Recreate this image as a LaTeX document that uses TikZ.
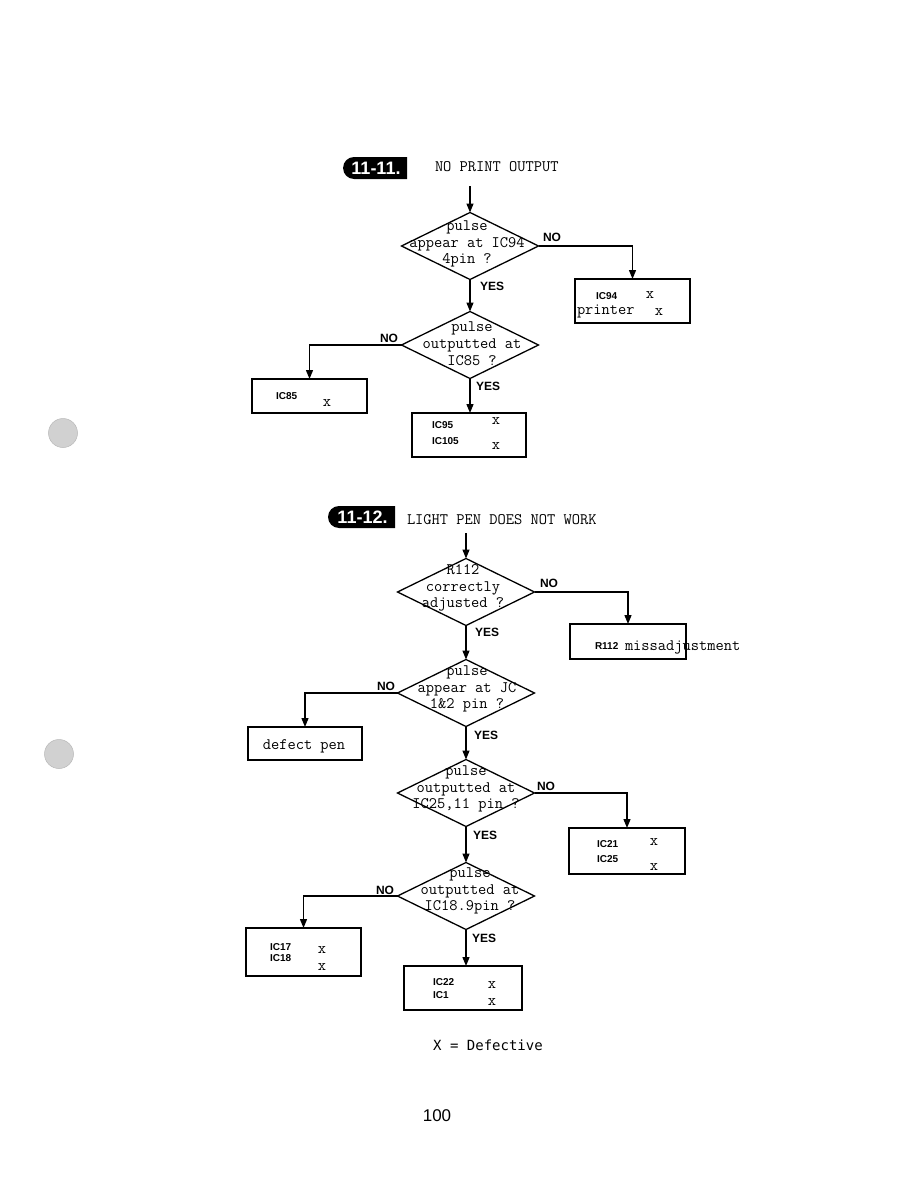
\documentclass[tikz,border=0pt]{standalone}
\usepackage{fontspec}
\setmainfont{Liberation Serif}
\newfontfamily\tsans{Liberation Sans}
\newfontfamily\dmono{DejaVu Sans Mono}
\newcommand{\cmono}{\ttfamily\addfontfeature{FakeBold=1.2}}
\usetikzlibrary{arrows.meta,shapes.geometric,shapes.misc}
\begin{document}
\begin{tikzpicture}[x=1pt,y=-1pt,
  every node/.style={inner sep=0pt,outer sep=0pt},
  arr/.style={line width=1.3pt,-{Triangle[length=9pt,width=7pt]}},
  dia/.style={draw,line width=1.3pt,diamond,minimum width=137pt,minimum height=67pt},
  dtext/.style={font=\cmono\fontsize{16}{16.8}\selectfont,align=center},
  boxnode/.style={draw,line width=1.3pt,rectangle},
  ttext/.style={font=\cmono\fontsize{16}{16}\selectfont},
  lbl/.style={font=\tsans\bfseries\fontsize{12}{12}\selectfont},
  ic/.style={font=\tsans\bfseries\fontsize{10}{10}\selectfont,anchor=west},
  xx/.style={font=\cmono\fontsize{16}{16}\selectfont},
  badge/.style={fill=black,rounded rectangle,rounded rectangle right arc=none,text=white,
     font=\tsans\bfseries\fontsize{18}{18}\selectfont,minimum height=22pt},
  hole/.style={fill=black!18,draw=black!28,line width=0.5pt,circle,minimum size=29pt}
]
\useasboundingbox (0,0) rectangle (918,1188);
\fill[white] (0,0) rectangle (918,1188);

% binder holes
\node[hole] (h1) at (63,433) {};
\node[hole] (h2) at (59,754) {};

% ===== 11-11 =====
\node[badge,minimum width=64pt] (bd1) at (376,168) {11-11.};
\node[ttext,anchor=west] (t1) at (435,167) {NO PRINT OUTPUT};
\coordinate (s1) at (470,186);

\node[dia] (d1) at (470,246) {};
\node[dtext] (d1t) at (467,244) {pulse\\appear at IC94\\4pin ?};
\node[dia] (d2) at (470,345) {};
\node[dtext] (d2t) at (472,344) {pulse\\outputted at\\IC85 ?};

\node[boxnode,minimum width=115pt,minimum height=44pt] (b1) at (632.5,301) {};
\node[ic] (b1a) at (596,296) {IC94};
\node[xx] (b1b) at (650,295) {x};
\node[ttext,anchor=west] (b1c) at (577,311) {printer};
\node[xx] (b1d) at (659,312) {x};

\node[boxnode,minimum width=115pt,minimum height=34pt] (b2) at (309.5,396) {};
\node[ic] (b2a) at (276,396) {IC85};
\node[xx] (b2b) at (327,403) {x};

\node[boxnode,minimum width=114pt,minimum height=44pt] (b3) at (469,435) {};
\node[ic] (b3a) at (432,425) {IC95};
\node[xx] (b3b) at (496,421) {x};
\node[ic] (b3c) at (432,441) {IC105};
\node[xx] (b3d) at (496,446) {x};

\draw[arr] (s1) -- (d1.north);
\draw[arr] (d1.east) -| (b1.north);
\node[lbl] (n1) at (552,237) {NO};
\draw[arr] (d1.south) -- (d2.north);
\node[lbl] (y1) at (492,286) {YES};
\draw[arr] (d2.west) -| (b2.north);
\node[lbl] (n2) at (389,338) {NO};
\draw[arr] (d2.south) -- (d2.south |- b3.north);
\node[lbl] (y2) at (488,386) {YES};

% ===== 11-12 =====
\node[badge,minimum width=67pt] (bd2) at (362.5,517) {11-12.};
\node[ttext,anchor=west] (t2) at (407,520) {LIGHT PEN DOES NOT WORK};
\coordinate (s2) at (466,533);

\node[dia] (d3) at (466,592) {};
\node[dtext] (d3t) at (463,588) {R112\\correctly\\adjusted ?};
\node[dia] (d4) at (466,693) {};
\node[dtext] (d4t) at (467,689) {pulse\\appear at JC\\1\&2 pin ?};
\node[dia] (d5) at (466,793) {};
\node[dtext] (d5t) at (466,789) {pulse\\outputted at\\IC25,11 pin ?};
\node[dia] (d6) at (466,896) {};
\node[dtext] (d6t) at (470,891) {pulse\\outputted at\\IC18.9pin ?};

\node[boxnode,minimum width=116pt,minimum height=35pt] (b4) at (628,641.5) {};
\node[ic] (b4a) at (595,646) {R112};
\node[ttext,anchor=west] (b4b) at (625,647) {missadjustment};

\node[boxnode,minimum width=114pt,minimum height=33pt] (b5) at (305,743.5) {};
\node[ttext] (b5a) at (304,746) {defect pen};

\node[boxnode,minimum width=116pt,minimum height=46pt] (b6) at (627,851) {};
\node[ic] (b6a) at (597,844) {IC21};
\node[xx] (b6b) at (654,842) {x};
\node[ic] (b6c) at (597,859) {IC25};
\node[xx] (b6d) at (654,867) {x};

\node[boxnode,minimum width=115pt,minimum height=48pt] (b7) at (303.5,952) {};
\node[ic] (b7a) at (270,947) {IC17};
\node[xx] (b7b) at (322,950) {x};
\node[ic] (b7c) at (270,958) {IC18};
\node[xx] (b7d) at (322,967) {x};

\node[boxnode,minimum width=118pt,minimum height=44pt] (b8) at (463,988) {};
\node[ic] (b8a) at (433,982) {IC22};
\node[xx] (b8b) at (492,985) {x};
\node[ic] (b8c) at (433,995) {IC1};
\node[xx] (b8d) at (492,1002) {x};

\draw[arr] (s2) -- (d3.north);
\draw[arr] (d3.east) -| (b4.north);
\node[lbl] (n3) at (549,583) {NO};
\draw[arr] (d3.south) -- (d4.north);
\node[lbl] (y3) at (487,632) {YES};
\draw[arr] (d4.west) -| (b5.north);
\node[lbl] (n4) at (386,686) {NO};
\draw[arr] (d4.south) -- (d5.north);
\node[lbl] (y4) at (486,735) {YES};
\draw[arr] (d5.east) -| (b6.north);
\node[lbl] (n5) at (546,786) {NO};
\draw[arr] (d5.south) -- (d6.north);
\node[lbl] (y5) at (485,835) {YES};
\draw[arr] (d6.west) -| (b7.north);
\node[lbl] (n6) at (385,890) {NO};
\draw[arr] (d6.south) -- (d6.south |- b8.north);
\node[lbl] (y6) at (484,938) {YES};

% footer
\node[font=\dmono\fontsize{14}{14}\selectfont] (leg) at (488,1045) {X = Defective};
\node[font=\tsans\fontsize{17}{17}\selectfont] (pg) at (437,1116) {100};
\end{tikzpicture}
\end{document}
